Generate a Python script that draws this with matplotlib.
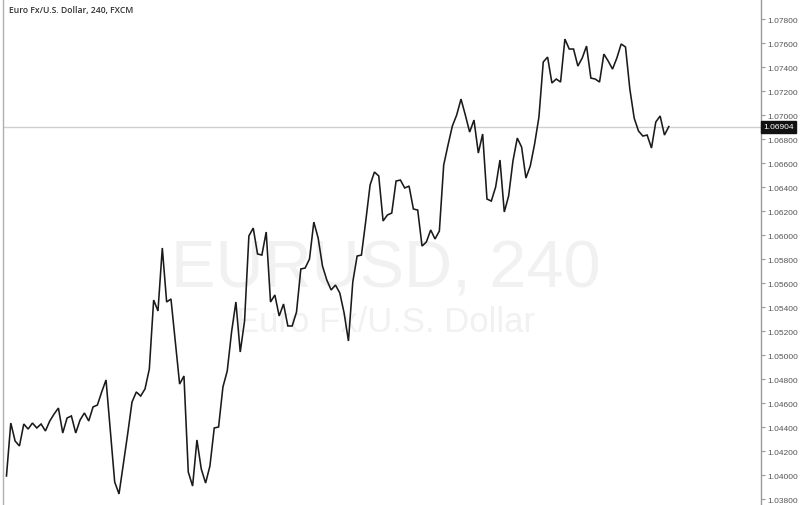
import matplotlib
matplotlib.use("Agg")
import matplotlib.pyplot as plt
import numpy as np

title = "Euro Fx/U.S. Dollar, 240, FXCM"
watermark_main = "EURUSD, 240"
watermark_sub = "Euro Fx/U.S. Dollar"

prices = [
    1.03992, 1.04433, 1.04283, 1.04242, 1.04425, 1.04383, 1.04433, 1.04392, 1.04425, 1.04367,
    1.04450, 1.04508, 1.04558, 1.04350, 1.04475, 1.04492, 1.04350, 1.04458, 1.04517, 1.04450,
    1.04567, 1.04583, 1.04692, 1.04792, 1.04367, 1.03942, 1.03842, 1.04092, 1.04342, 1.04608,
    1.04692, 1.04658, 1.04717, 1.04883, 1.05458, 1.05367, 1.05892, 1.05442, 1.05467, 1.05108,
    1.04758, 1.04825, 1.04025, 1.03908, 1.04292, 1.04050, 1.03933, 1.04075, 1.04392, 1.04400,
    1.04733, 1.04867, 1.05192, 1.05442, 1.05025, 1.05283, 1.05992, 1.06058, 1.05842, 1.05833,
    1.06025, 1.05442, 1.05500, 1.05325, 1.05425, 1.05242, 1.05242, 1.05358, 1.05717, 1.05725,
    1.05800, 1.06108, 1.05975, 1.05742, 1.05625, 1.05542, 1.05583, 1.05517, 1.05350, 1.05117,
    1.05608, 1.05825, 1.05833, 1.06117, 1.06417, 1.06525, 1.06492, 1.06117, 1.06167, 1.06183,
    1.06450, 1.06458, 1.06392, 1.06408, 1.06217, 1.06208, 1.05908, 1.05942, 1.06042, 1.05967,
    1.06033, 1.06583, 1.06750, 1.06908, 1.07000, 1.07133, 1.07000, 1.06858, 1.06958, 1.06683,
    1.06842, 1.06300, 1.06283, 1.06400, 1.06625, 1.06192, 1.06325, 1.06617, 1.06808, 1.06733,
    1.06475, 1.06575, 1.06758, 1.06983, 1.07442, 1.07483, 1.07267, 1.07300, 1.07275, 1.07633,
    1.07550, 1.07550, 1.07408, 1.07475, 1.07575, 1.07308, 1.07300, 1.07275, 1.07508, 1.07450,
    1.07383, 1.07475, 1.07592, 1.07567, 1.07217, 1.06975, 1.06867, 1.06825, 1.06833, 1.06725,
    1.06942, 1.06992, 1.06833, 1.06904,
]
last_price = 1.06904
tick_values = [1.038, 1.040, 1.042, 1.044, 1.046, 1.048, 1.050, 1.052, 1.054, 1.056, 1.058,
               1.060, 1.062, 1.064, 1.066, 1.068, 1.070, 1.072, 1.074, 1.076, 1.078]

W, H = 800, 506
fig = plt.figure(figsize=(W / 100, H / 100), dpi=100)
fig.patch.set_facecolor("white")
ax = fig.add_axes([3 / W, 0, (761 - 3) / W, 1])
ax.set_facecolor("white")

x = np.arange(len(prices))
ax.plot(x, prices, color="#1a1a1a", lw=1.15, zorder=3, solid_joinstyle="miter")

ax.set_xlim(-0.8, 174.3)
ax.set_ylim(1.0375, 1.07967)

# last price line
ax.axhline(last_price, color="#cfcfcf", lw=1.0, zorder=1)

# watermark
ax.text(0.505, 0.466, watermark_main, transform=ax.transAxes, ha="center", va="center",
        fontsize=48, color="#f1f1f1", family="Liberation Sans", zorder=0)
ax.text(0.505, 0.362, watermark_sub, transform=ax.transAxes, ha="center", va="center",
        fontsize=25, color="#f1f1f1", family="Liberation Sans", zorder=0)

# title
fig.text(9 / W, 1 - 10 / H, title, ha="left", va="center", fontsize=6.2,
         color="#333333", family="Open Sans", fontweight="semibold")

# axes styling
for s in ["top", "bottom"]:
    ax.spines[s].set_visible(False)
ax.spines["left"].set_color("#b0b0b0")
ax.spines["right"].set_color("#999999")
ax.spines["left"].set_linewidth(1.0)
ax.spines["right"].set_linewidth(1.0)
ax.set_xticks([])
ax.yaxis.tick_right()
ax.set_yticks(tick_values)
ax.set_yticklabels([f"{v:.5f}" for v in tick_values])
ax.tick_params(axis="y", direction="out", length=3, width=0.8, color="#999999",
               labelsize=6.0, labelcolor="#555555", pad=1.5)
for lab in ax.get_yticklabels():
    lab.set_family("Liberation Sans")

# last price label
ax.annotate(f"{last_price:.5f}", xy=(1.0, last_price), xycoords=("axes fraction", "data"),
            xytext=(1.5, 0), textcoords="offset points", ha="left", va="center",
            fontsize=6.0, color="white", family="Liberation Sans", annotation_clip=False,
            bbox=dict(boxstyle="square,pad=0.3", fc="#111111", ec="#111111"), zorder=5)

fig.savefig("out.png", dpi=100, facecolor="white")
